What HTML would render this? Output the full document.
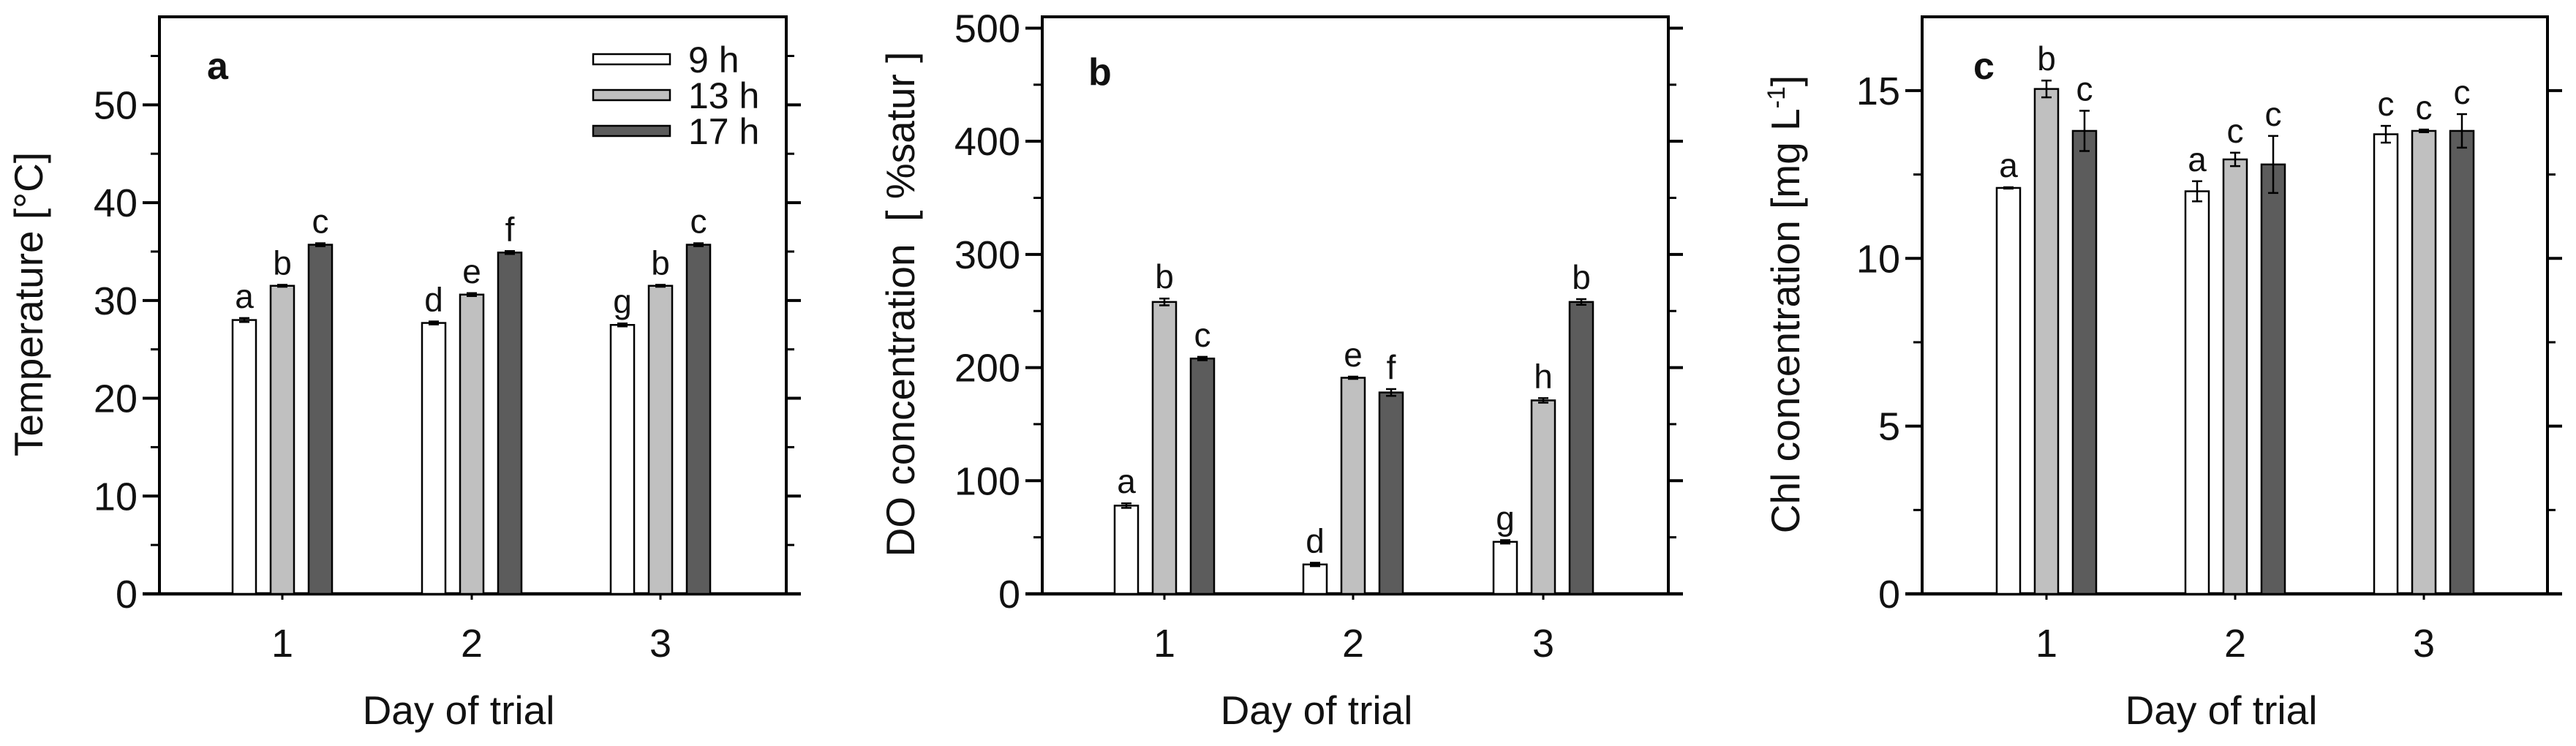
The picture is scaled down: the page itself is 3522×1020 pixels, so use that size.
<!DOCTYPE html>
<html><head><meta charset="utf-8"><style>
html,body{margin:0;padding:0;background:#fff;}
svg{display:block;font-family:"Liberation Sans",Arial,sans-serif;}
</style></head><body>
<svg id="fig" width="3522" height="1020" viewBox="0 0 3522 1020" xmlns="http://www.w3.org/2000/svg"></svg>
<script>
const days = ["1","2","3"];
const seriesNames = ["9 h","13 h","17 h"];
// Panel a: temperature
const tempH9 = [28.0, 27.7, 27.5];
const tempH13 = [31.5, 30.6, 31.5];
const tempH17 = [35.7, 34.9, 35.7];
const tempErr9 = [0.2, 0.15, 0.15];
const tempErr13 = [0.1, 0.15, 0.1];
const tempErr17 = [0.15, 0.15, 0.15];
const tempLetters = [["a","b","c"],["d","e","f"],["g","b","c"]];
const tempTicks = [0,10,20,30,40,50];
// Panel b: DO
const doH9 = [78, 26, 46];
const doH13 = [258, 191, 171];
const doH17 = [208, 178, 258];
const doErr9 = [2, 1.5, 1.5];
const doErr13 = [3, 1, 2];
const doErr17 = [1.5, 3, 2.5];
const doLetters = [["a","b","c"],["d","e","f"],["g","h","b"]];
const doTicks = [0,100,200,300,400,500];
// Panel c: Chl
const chlH9 = [12.1, 12.0, 13.7];
const chlH13 = [15.05, 12.95, 13.8];
const chlH17 = [13.8, 12.8, 13.8];
const chlErr9 = [0.02, 0.3, 0.25];
const chlErr13 = [0.25, 0.2, 0.04];
const chlErr17 = [0.6, 0.85, 0.5];
const chlLetters = [["a","b","c"],["a","c","c"],["c","c","c"]];
const chlTicks = [0,5,10,15];

const NS = "http://www.w3.org/2000/svg";
const svg = document.getElementById("fig");
function mk(tag, attrs, parent){
  const e = document.createElementNS(NS, tag);
  for (const k in attrs) e.setAttribute(k, attrs[k]);
  (parent||svg).appendChild(e);
  return e;
}
const fills = ["#ffffff","#c0c0c0","#5c5c5c"];

function panel(cfg){
  const g = mk("g", {});
  
  
  const L=cfg.left, R=cfg.right, T=23, B=812;
  const y = v => B - (v/cfg.ymax)*(B-T);
  const xc = i => cfg.centers[i];
  const frame = mk("rect", {x:L,y:T,width:R-L,height:B-T,fill:"none",stroke:"#000","stroke-width":4}, g);
  
  
  const xaxis = mk("line", {x1:L-23,y1:B,x2:R+20,y2:B,stroke:"#000","stroke-width":4.5}, g);
  
  
  for (let v=0; v<=cfg.ymax+1e-9; v+=cfg.minor){
    const major = cfg.ticks.some(t=>Math.abs(t-v)<1e-9);
    const yy=y(v);
    mk("line",{x1:L-(major?23:12),y1:yy,x2:L,y2:yy,stroke:"#000","stroke-width":major?4:3},g);
    mk("line",{x1:R,y1:yy,x2:R+(major?20:11),y2:yy,stroke:"#000","stroke-width":major?4:3},g);
  }
  cfg.ticks.forEach(t=>{
    const tl = mk("text",{x:L-30,y:y(t)+19,"text-anchor":"end","font-size":54,fill:"#111"},g);
    tl.textContent=t;
    
    
  });
  days.forEach((d,i)=>{
    mk("line",{x1:xc(i),y1:B,x2:xc(i),y2:B+8,stroke:"#000","stroke-width":3},g);
    const t = mk("text",{x:xc(i),y:898,"text-anchor":"middle","font-size":54,fill:"#111"},g);
    t.textContent=d;
    
    
  });
  const offs=[-52,0,52], bw=32;
  cfg.series.forEach((vals,s)=>{
    vals.forEach((v,i)=>{
      const cx = xc(i)+offs[s];
      const r = mk("rect",{x:cx-bw/2,y:y(v),width:bw,height:B-y(v),fill:fills[s],stroke:"#000","stroke-width":2.5},g);
      
      
      const e = cfg.errs[s][i];
      const y1=y(v+e), y2=y(v-e);
      mk("line",{x1:cx,y1:y1,x2:cx,y2:y2,stroke:"#000","stroke-width":2.5},g);
      mk("line",{x1:cx-7,y1:y1,x2:cx+7,y2:y1,stroke:"#000","stroke-width":2.5},g);
      mk("line",{x1:cx-7,y1:y2,x2:cx+7,y2:y2,stroke:"#000","stroke-width":2.5},g);
      const lt = mk("text",{x:cx,y:y1-14,"text-anchor":"middle","font-size":46,fill:"#111"},g);
      lt.textContent = cfg.letters[i][s];
      
      
    });
  });
  const pl = mk("text",{x:cfg.plx,y:cfg.ply,"font-size":52,"font-weight":"bold",fill:"#111"},g);
  pl.textContent = cfg.panelLabel;
  
  
  const xt = mk("text",{x:cfg.xtx,y:990,"text-anchor":"middle","font-size":55,fill:"#111"},g);
  xt.textContent="Day of trial";
  
  
  const yt = mk("text",{x:0,y:0,"text-anchor":"middle","font-size":55,fill:"#111",transform:`translate(${cfg.ytx},416) rotate(-90)`},g);
  yt.innerHTML = cfg.ytitle;
  
  
}

panel({name:"panel-a-temperature",left:218,right:1075,ymax:59,minor:5,ticks:tempTicks,centers:[386,645,903],
  series:[tempH9,tempH13,tempH17],errs:[tempErr9,tempErr13,tempErr17],letters:tempLetters,
  panelLabel:"a",plx:283,ply:108,xtx:627,ytx:58,ytitle:"Temperature [°C]"});
panel({name:"panel-b-do",left:1425,right:2281,ymax:510,minor:50,ticks:doTicks,centers:[1592,1850,2110],
  series:[doH9,doH13,doH17],errs:[doErr9,doErr13,doErr17],letters:doLetters,
  panelLabel:"b",plx:1488,ply:116,xtx:1800,ytx:1250,ytitle:"DO concentration&#160;&#160;[ %satur ]"});
panel({name:"panel-c-chl",left:2628,right:3483,ymax:17.2,minor:2.5,ticks:chlTicks,centers:[2798,3056,3314],
  series:[chlH9,chlH13,chlH17],errs:[chlErr9,chlErr13,chlErr17],letters:chlLetters,
  panelLabel:"c",plx:2698,ply:108,xtx:3037,ytx:2460,ytitle:"Chl concentration [mg L<tspan dy='-20' font-size='34'>-1</tspan><tspan dy='20'>]</tspan>"});

const lg = mk("g",{});


const legY=[81,130,179];
seriesNames.forEach((n,s)=>{
  const r = mk("rect",{x:811,y:legY[s]-7,width:105,height:14,fill:fills[s],stroke:"#000","stroke-width":2.5},lg);
  
  
  const t = mk("text",{x:941,y:legY[s]+18,"font-size":50,fill:"#111"},lg);
  t.textContent=n;
  
  
});
</script>
</body></html>
